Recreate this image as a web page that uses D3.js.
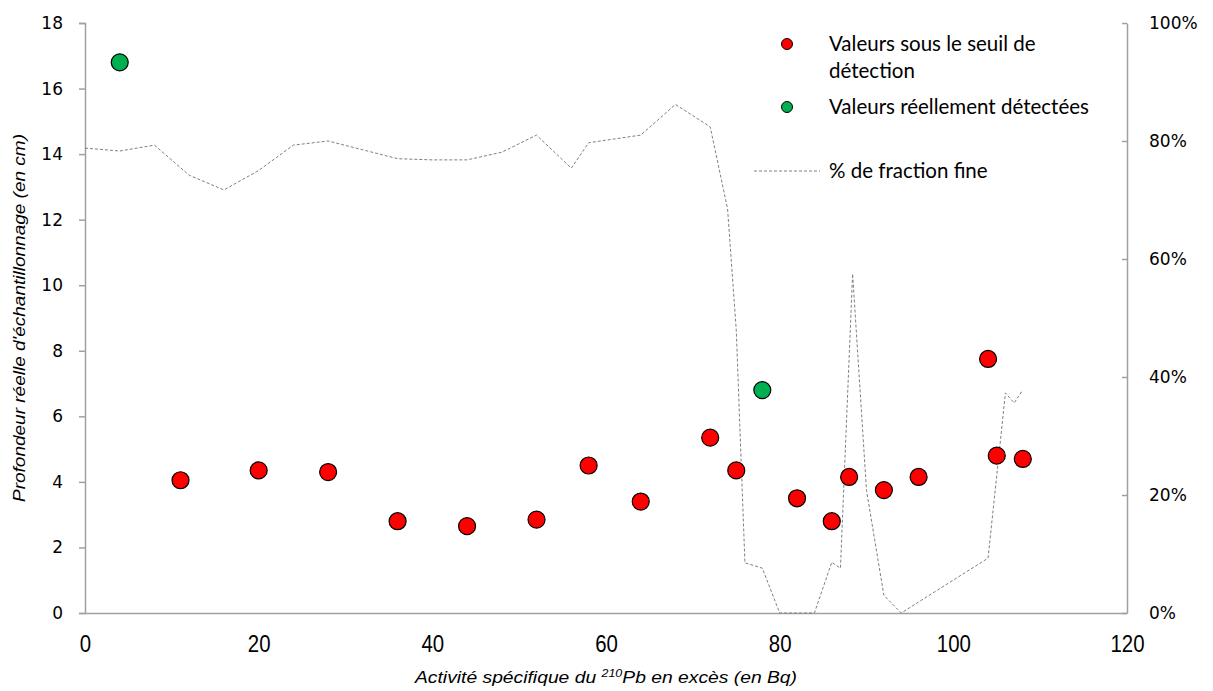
<!DOCTYPE html>
<html>
<head>
<meta charset="utf-8">
<style>
  body { margin: 0; background: #fff; }
  svg { display: block; }
  .tick text { fill: #000; }
</style>
</head>
<body>
<svg width="1213" height="691"></svg>
<script src="https://d3js.org/d3.v7.min.js"></script>
<script>

// red points: below detection threshold
var belowX = [11, 20, 28, 36, 44, 52, 58, 64, 72, 75, 82, 86, 88, 92, 96, 104, 105, 108];
var belowY = [4.05, 4.35, 4.3, 2.8, 2.65, 2.85, 4.5, 3.4, 5.35, 4.35, 3.5, 2.8, 4.15, 3.75, 4.15, 7.75, 4.8, 4.7];

// green points: really detected
var detX = [4, 78];
var detY = [16.8, 6.8];

// % fine fraction (right axis)
var fineX = [0, 4, 8, 12, 16, 20, 24, 28, 32, 36, 40, 44, 48, 52, 56, 58, 64, 68, 72, 74, 75, 76, 78, 80, 84, 86, 87, 88.4, 90, 92, 94, 104, 106, 107, 108];
var fineP = [0.788, 0.783, 0.793, 0.742, 0.717, 0.75, 0.793, 0.80, 0.785, 0.77, 0.768, 0.768, 0.781, 0.81, 0.754, 0.797, 0.81, 0.862, 0.824, 0.685, 0.48, 0.085, 0.076, 0, 0, 0.086, 0.076, 0.575, 0.208, 0.03, 0, 0.093, 0.373, 0.356, 0.378];

var leftTicks = [0, 2, 4, 6, 8, 10, 12, 14, 16, 18];
var rightTicks = [0, 0.2, 0.4, 0.6, 0.8, 1];
var xTicks = [0, 20, 40, 60, 80, 100, 120];

var svg = d3.select("svg");
var plotL = 85, plotR = 1127, plotT = 23, plotB = 613;

var x = d3.scaleLinear().domain([0, 120]).range([plotL, plotR]);
var y = d3.scaleLinear().domain([0, 18]).range([plotB, plotT]);
var y2 = d3.scaleLinear().domain([0, 1]).range([plotB, plotT]);

var axisColor = "#a0a0a0";

// left axis
var gl = svg.append("g")
    .attr("transform", "translate(" + plotL + ",0)")
    .call(d3.axisLeft(y).tickValues(leftTicks).tickSize(6).tickPadding(16).tickFormat(d3.format("d")));
gl.selectAll("text").attr("font-family", "DejaVu Sans, Verdana, sans-serif").attr("font-size", 17);

// right axis (ticks inside)
var gr = svg.append("g")
    .attr("transform", "translate(" + plotR + ",0)")
    .call(d3.axisRight(y2).tickValues(rightTicks).tickSizeInner(-5).tickSizeOuter(0).tickPadding(22).tickFormat(d3.format(".0%")));
gr.selectAll("text").attr("font-family", "DejaVu Sans, Verdana, sans-serif").attr("font-size", 17);

// bottom axis (no ticks), condensed labels
var gb = svg.append("g")
    .attr("transform", "translate(0," + plotB + ")")
    .call(d3.axisBottom(x).tickValues(xTicks).tickSize(0).tickPadding(22));
gb.selectAll("text")
    .attr("font-family", "Liberation Sans, Arial, sans-serif")
    .attr("font-size", 24)
    .attr("transform", "scale(0.85,1)")
    .attr("dy", "0.72em");

svg.selectAll(".domain, .tick line").attr("stroke", axisColor).attr("stroke-width", 1.5);

// fine fraction line
var line = d3.line()
    .x(function(d, i) { return x(fineX[i]); })
    .y(function(d) { return y2(d); });

svg.append("path")
    .datum(fineP)
    .attr("d", line)
    .attr("fill", "none")
    .attr("stroke", "#7f7f7f")
    .attr("stroke-width", 1)
    .attr("stroke-dasharray", "3,2");

// points
svg.append("g").selectAll("circle")
    .data(belowX)
  .enter().append("circle")
    .attr("cx", function(d) { return x(d); })
    .attr("cy", function(d, i) { return y(belowY[i]); })
    .attr("r", 8.5)
    .attr("fill", "#ff0000")
    .attr("stroke", "#000")
    .attr("stroke-width", 1.2);

svg.append("g").selectAll("circle")
    .data(detX)
  .enter().append("circle")
    .attr("cx", function(d) { return x(d); })
    .attr("cy", function(d, i) { return y(detY[i]); })
    .attr("r", 8.5)
    .attr("fill", "#00b050")
    .attr("stroke", "#000")
    .attr("stroke-width", 1.2);

// legend
var lg = svg.append("g")
    .attr("font-family", "Lato, Open Sans, sans-serif")
    .attr("font-size", 20.5);

lg.append("circle").attr("cx", 787).attr("cy", 44).attr("r", 5.5)
    .attr("fill", "#ff0000").attr("stroke", "#000").attr("stroke-width", 1);
lg.append("text").attr("x", 829).attr("y", 51).text("Valeurs sous le seuil de");
lg.append("text").attr("x", 829).attr("y", 78).text("détection");

lg.append("circle").attr("cx", 787).attr("cy", 107).attr("r", 5.5)
    .attr("fill", "#00b050").attr("stroke", "#000").attr("stroke-width", 1);
lg.append("text").attr("x", 829).attr("y", 114).text("Valeurs réellement détectées");

lg.append("line").attr("x1", 754).attr("x2", 820).attr("y1", 171).attr("y2", 171)
    .attr("stroke", "#7f7f7f").attr("stroke-width", 1).attr("stroke-dasharray", "3,2");
lg.append("text").attr("x", 829).attr("y", 178).text("% de fraction fine");

// axis titles
svg.append("text")
    .attr("transform", "translate(25," + ((plotT + plotB) / 2) + ") rotate(-90)")
    .attr("text-anchor", "middle")
    .attr("font-family", "Liberation Sans, Arial, sans-serif")
    .attr("font-style", "italic")
    .attr("font-size", 17)
    .attr("textLength", 368)
    .attr("lengthAdjust", "spacingAndGlyphs")
    .text("Profondeur réelle d'échantillonnage (en cm)");

var xt = svg.append("text")
    .attr("x", 606)
    .attr("y", 683)
    .attr("text-anchor", "middle")
    .attr("font-family", "Liberation Sans, Arial, sans-serif")
    .attr("font-style", "italic")
    .attr("font-size", 17)
    .attr("textLength", 382)
    .attr("lengthAdjust", "spacingAndGlyphs");
xt.append("tspan").text("Activité spécifique du ");
xt.append("tspan").attr("font-size", 11).attr("dy", -6).text("210");
xt.append("tspan").attr("dy", 6).text("Pb en excès  (en Bq)");

</script>
</body>
</html>
